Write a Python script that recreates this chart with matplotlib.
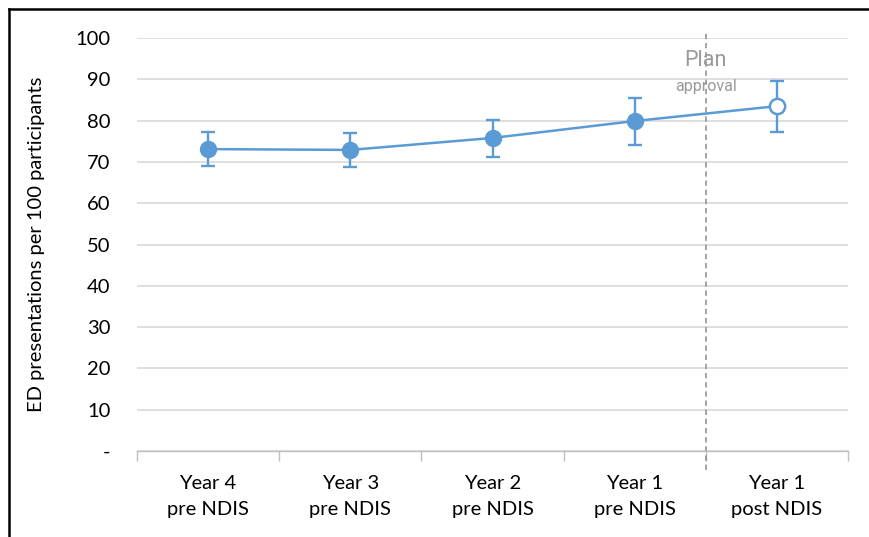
import numpy as np
import matplotlib
matplotlib.use('Agg')
import matplotlib.pyplot as plt
from matplotlib.lines import Line2D

plt.rcParams['font.family'] = ['Lato', 'DejaVu Sans']

# ── Data ─────────────────────────────────────────────────────────────────────
categories = ['Year 4\npre NDIS', 'Year 3\npre NDIS', 'Year 2\npre NDIS',
              'Year 1\npre NDIS', 'Year 1\npost NDIS']
rates = [73.1, 72.9, 75.8, 79.9, 83.5]
upper = [77.2, 77.0, 80.1, 85.4, 89.7]
lower = [69.0, 68.8, 71.2, 74.1, 77.2]
yticks = [0, 10, 20, 30, 40, 50, 60, 70, 80, 90, 100]
ytick_labels = ['-', '10', '20', '30', '40', '50', '60', '70', '80', '90', '100']

BLUE = '#5b9bd5'
GRID = '#d9d9d9'
PLAN_GREY = '#8c8c8c'

x = np.arange(len(categories))
rates = np.array(rates)
err = [rates - np.array(lower), np.array(upper) - rates]

fig = plt.figure(figsize=(8.69, 5.37), dpi=100)
ax = fig.add_axes([137/869, 86/537, 711/869, 413/537])

ax.plot(x, rates, color=BLUE, lw=1.8, zorder=3)
ax.errorbar(x, rates, yerr=err, fmt='none', ecolor=BLUE, elinewidth=1.7,
            capsize=5, capthick=1.7, zorder=3)
ax.plot(x[:-1], rates[:-1], 'o', color=BLUE, ms=11.5, zorder=4)
ax.plot(x[-1:], rates[-1:], 'o', mfc='white', mec=BLUE, mew=1.8, ms=11, zorder=4)

# plan approval marker
ax.plot([3.5, 3.5], [-4.6, 101.9], color=PLAN_GREY, lw=1.1, ls=(0, (3.5, 2.5)),
        clip_on=False, zorder=2)
ax.text(3.5, 94.6, 'Plan', ha='center', va='center', fontsize=15.5,
        color='#999999', family=['Roboto', 'DejaVu Sans'])
ax.text(3.5, 88.3, 'approval', ha='center', va='center', fontsize=11.5,
        color='#999999', family=['Roboto', 'DejaVu Sans'])

ax.set_xlim(-0.5, len(categories) - 0.5)
ax.set_ylim(0, 100)
ax.set_yticks(yticks)
ax.set_yticklabels(ytick_labels)
ax.set_xticks(x)
ax.set_xticklabels(categories, linespacing=1.65)
ax.set_xticks(np.arange(-0.5, len(categories)), minor=True)
ax.tick_params(axis='x', which='major', length=0, pad=17, labelsize=14.5)
ax.tick_params(axis='x', which='minor', length=7, color='#bfbfbf', width=1)
ax.tick_params(axis='y', length=0, pad=19, labelsize=14.5)
ax.grid(axis='y', color=GRID, lw=1.2)
ax.set_axisbelow(True)
for s in ['top', 'right', 'left']:
    ax.spines[s].set_visible(False)
ax.spines['bottom'].set_color('#bfbfbf')
ax.spines['bottom'].set_linewidth(1)

ax.set_ylabel('ED presentations per 100 participants', fontsize=14.5, labelpad=22)

# frame lines (left and top)
fig.add_artist(Line2D([9/869, 9/869], [0, 1 - 9/537], color='black', lw=1.8,
                      transform=fig.transFigure))
fig.add_artist(Line2D([9/869, 1], [1 - 9/537, 1 - 9/537], color='black', lw=1.8,
                      transform=fig.transFigure))

fig.savefig('out.png', dpi=100)
